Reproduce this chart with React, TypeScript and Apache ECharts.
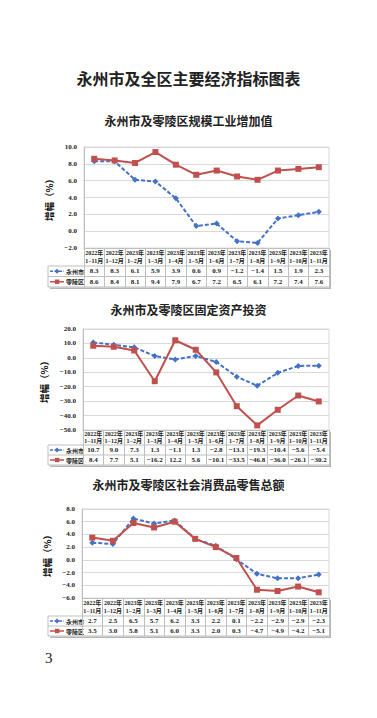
import React, { useEffect, useRef } from 'react';
import * as echarts from 'echarts';

// ---- data ----
const categories = [
  '2022年\n1−11月', '2022年\n1−12月', '2023年\n1−2月', '2023年\n1−3月',
  '2023年\n1−4月', '2023年\n1−5月', '2023年\n1−6月', '2023年\n1−7月',
  '2023年\n1−8月', '2023年\n1−9月', '2023年\n1−10月', '2023年\n1−11月',
];
const seriesNames = ['永州市', '零陵区'];
const mainTitle = '永州市及全区主要经济指标图表';
const panelTitles = [
  '永州市及零陵区规模工业增加值',
  '永州市及零陵区固定资产投资',
  '永州市及零陵区社会消费品零售总额',
];
const industryYongzhou = [8.3, 8.3, 6.1, 5.9, 3.9, 0.6, 0.9, -1.2, -1.4, 1.5, 1.9, 2.3];
const industryLingling = [8.6, 8.4, 8.1, 9.4, 7.9, 6.7, 7.2, 6.5, 6.1, 7.2, 7.4, 7.6];
const investYongzhou = [10.7, 9.0, 7.3, 1.3, -1.1, 1.3, -2.8, -13.1, -19.3, -10.4, -5.6, -5.4];
const investLingling = [8.4, 7.7, 5.1, -16.2, 12.2, 5.6, -10.1, -33.5, -46.8, -36.0, -26.1, -30.2];
const retailYongzhou = [2.7, 2.5, 6.5, 5.7, 6.2, 3.3, 2.2, 0.1, -2.2, -2.9, -2.9, -2.3];
const retailLingling = [3.5, 3.0, 5.8, 5.1, 6.0, 3.3, 2.0, 0.3, -4.7, -4.9, -4.2, -5.1];
const yRanges = [
  { min: -2, max: 10, interval: 2 },
  { min: -50, max: 20, interval: 10 },
  { min: -6, max: 8, interval: 2 },
];
const yAxisName = '增幅（%）';
const pageNumber = '3';

// ---- layout ----
const BLUE = '#4472C4';
const RED = '#C0504D';
const GRIDC = '#d9d9d9';
const TABC = '#bfbfbf';
const SERIF = '"Liberation Serif", "Times New Roman", "Noto Sans CJK SC", serif';
const SANS = '"Noto Sans CJK SC", "Noto Sans", sans-serif';

const layouts = [
  { titleY: 121, left: 84, top: 147, width: 245, height: 101, headerH: 18, rowH: 10.5 },
  { titleY: 310, left: 83, top: 329, width: 246, height: 101, headerH: 15, rowH: 10 },
  { titleY: 485, left: 82, top: 509, width: 247, height: 89, headerH: 18, rowH: 10 },
];

const fmt = (v: number) => (v < 0 ? '−' + Math.abs(v).toFixed(1) : v.toFixed(1));

export default function App() {
  const ref = useRef<HTMLDivElement>(null);
  useEffect(() => {
    if (!ref.current) return;
    const chart = echarts.init(ref.current, undefined, { renderer: 'svg' });
    const values = [
      [industryYongzhou, industryLingling],
      [investYongzhou, investLingling],
      [retailYongzhou, retailLingling],
    ];
    const grid: any[] = [];
    const xAxis: any[] = [];
    const yAxis: any[] = [];
    const series: any[] = [];
    const graphic: any[] = [];

    graphic.push({
      type: 'text', left: 'center', top: 70,
      style: { text: mainTitle, fontSize: 16, fontWeight: 'bold', fontFamily: SANS, fill: '#222' },
    });

    layouts.forEach((L, i) => {
      const bottom = L.top + L.height;
      const right = L.left + L.width;
      const hb = bottom + L.headerH;
      const r1 = hb + L.rowH;
      const r2 = r1 + L.rowH;
      grid.push({ left: L.left, top: L.top, width: L.width, height: L.height, show: true, borderColor: GRIDC, borderWidth: 1 });
      xAxis.push({
        gridIndex: i, type: 'category', data: categories, boundaryGap: true,
        axisLine: { onZero: false, lineStyle: { color: TABC } },
        axisTick: { show: true, interval: 0, length: L.headerH + 2 * L.rowH, lineStyle: { color: TABC } },
        axisLabel: { interval: 0, margin: L.headerH / 2, verticalAlign: 'middle', fontSize: 6, lineHeight: 7.5, fontFamily: SERIF, color: '#222', fontWeight: 'bold' },
      });
      [0, 1].forEach((r) => {
        const vals = values[i][r];
        xAxis.push({
          gridIndex: i, type: 'category', data: categories, position: 'bottom', boundaryGap: true,
          axisLine: { show: false, onZero: false }, axisTick: { show: false },
          axisLabel: {
            interval: 0, margin: L.headerH + L.rowH * (r + 0.5), verticalAlign: 'middle',
            fontSize: 7, fontFamily: SERIF, color: '#222', fontWeight: 'bold',
            formatter: (_v: string, idx: number) => fmt(vals[idx]),
          },
        });
      });
      yAxis.push({
        gridIndex: i, type: 'value', ...yRanges[i],
        axisLine: { show: true, lineStyle: { color: TABC } },
        axisTick: { show: false },
        splitLine: { lineStyle: { color: GRIDC } },
        axisLabel: { formatter: fmt, fontSize: 7, fontFamily: SERIF, color: '#222', fontWeight: 'bold', margin: 7 },
        name: yAxisName, nameLocation: 'middle', nameRotate: 90, nameGap: 29,
        nameTextStyle: { fontSize: 9.5, fontWeight: 'bold', fontFamily: SANS, color: '#111' },
      });
      series.push({
        type: 'line', name: seriesNames[0], xAxisIndex: i * 3, yAxisIndex: i, data: values[i][0],
        symbol: 'diamond', symbolSize: 6, lineStyle: { color: BLUE, width: 2, type: [4, 2] },
        itemStyle: { color: BLUE },
      });
      series.push({
        type: 'line', name: seriesNames[1], xAxisIndex: i * 3, yAxisIndex: i, data: values[i][1],
        symbol: 'rect', symbolSize: 6, lineStyle: { color: RED, width: 2 },
        itemStyle: { color: RED },
      });

      graphic.push({
        type: 'text', left: 'center', top: L.titleY - 7,
        style: { text: panelTitles[i], fontSize: 12, fontWeight: 'bold', fontFamily: SANS, fill: '#222' },
      });
      // shadow
      graphic.push({ type: 'rect', shape: { x: right + 0.5, y: bottom + 2, width: 1.5, height: r2 - bottom }, style: { fill: '#b5b5b5' } });
      graphic.push({ type: 'rect', shape: { x: 50, y: r2 + 0.5, width: right - 48, height: 1.5 }, style: { fill: '#b5b5b5' } });
      [hb, r1, r2].forEach((y) => {
        graphic.push({ type: 'line', shape: { x1: 48, y1: y, x2: right, y2: y }, style: { stroke: TABC, lineWidth: 1 } });
      });
      graphic.push({ type: 'line', shape: { x1: 48, y1: hb, x2: 48, y2: r2 }, style: { stroke: TABC, lineWidth: 1 } });
      // legend cells
      [0, 1].forEach((r) => {
        const c = hb + L.rowH * (r + 0.5);
        const col = r === 0 ? BLUE : RED;
        graphic.push({
          type: 'line', shape: { x1: 50, y1: c, x2: 64, y2: c },
          style: { stroke: col, lineWidth: 1.5, lineDash: r === 0 ? [3, 1.5] : null },
        });
        if (r === 0) {
          graphic.push({ type: 'polygon', shape: { points: [[57, c - 2.5], [59.5, c], [57, c + 2.5], [54.5, c]] }, style: { fill: col } });
        } else {
          graphic.push({ type: 'rect', shape: { x: 55, y: c - 2.2, width: 4.4, height: 4.4 }, style: { fill: col } });
        }
        graphic.push({
          type: 'text', x: 66, y: c,
          style: { text: seriesNames[r], fontSize: 6, fontWeight: 'bold', fontFamily: SANS, fill: '#222', verticalAlign: 'middle' },
        });
      });
    });

    graphic.push({
      type: 'text', x: 45, y: 658,
      style: { text: pageNumber, fontSize: 15, fontFamily: SERIF, fill: '#222', verticalAlign: 'middle' },
    });

    chart.setOption({ animation: false, grid, xAxis, yAxis, series, graphic });
    return () => chart.dispose();
  }, []);
  return <div ref={ref} style={{ position: 'fixed', left: 0, top: 0, width: 377, height: 718, background: '#fff' }} />;
}
